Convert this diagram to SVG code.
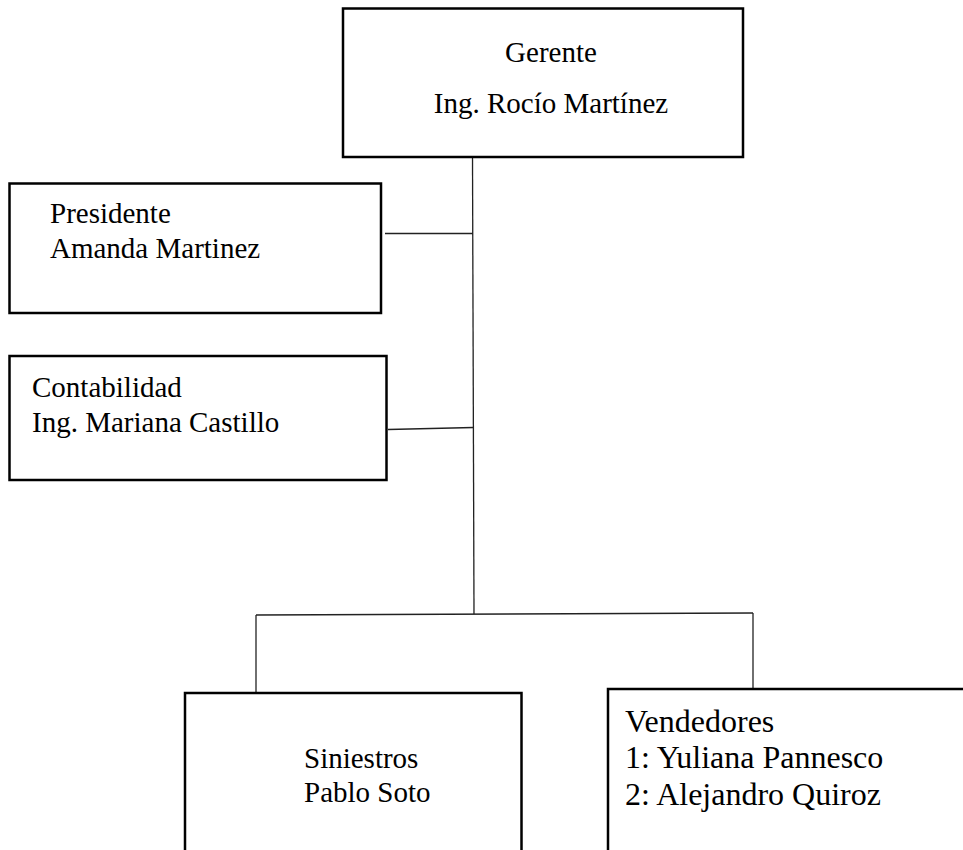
<svg xmlns="http://www.w3.org/2000/svg" width="963" height="850" viewBox="0 0 963 850">
<style>
.box{fill:#fff;stroke:#000;stroke-width:2.5}
.conn{fill:none;stroke:#222;stroke-width:1.3}
text{font-family:"Liberation Serif","Times New Roman",serif;fill:#000;font-size:29px}
.big{font-size:32px}
</style>
<rect width="963" height="850" fill="#fff"/>
<g id="connectors">
<line class="conn" x1="472.5" y1="157" x2="474" y2="614"/>
<line class="conn" x1="385" y1="233.5" x2="473" y2="233.5"/>
<line class="conn" x1="388" y1="429.5" x2="473.5" y2="427.5"/>
<line class="conn" x1="256" y1="615" x2="753" y2="613"/>
<line class="conn" x1="256" y1="615" x2="256" y2="693"/>
<line class="conn" x1="753" y1="613" x2="753" y2="689"/>
</g>
<g id="gerente">
<rect class="box" x="343" y="8.5" width="400" height="148.5"/>
<text x="551" y="62" text-anchor="middle">Gerente</text>
<text x="551" y="113" text-anchor="middle">Ing. Rocío Martínez</text>
</g>
<g id="presidente">
<rect class="box" x="9.5" y="183.5" width="371.5" height="129.5"/>
<text x="50" y="223">Presidente</text>
<text x="50" y="258">Amanda Martinez</text>
</g>
<g id="contabilidad">
<rect class="box" x="9.5" y="356" width="377" height="124"/>
<text x="32" y="397">Contabilidad</text>
<text x="32" y="432">Ing. Mariana Castillo</text>
</g>
<g id="siniestros">
<rect class="box" x="185" y="693" width="336.5" height="200"/>
<text x="304" y="768">Siniestros</text>
<text x="304" y="802">Pablo Soto</text>
</g>
<g id="vendedores">
<rect class="box" x="608" y="689" width="400" height="200"/>
<text class="big" x="625" y="732">Vendedores</text>
<text class="big" x="625" y="768">1: Yuliana Pannesco</text>
<text class="big" x="625" y="805">2: Alejandro Quiroz</text>
</g>
</svg>
